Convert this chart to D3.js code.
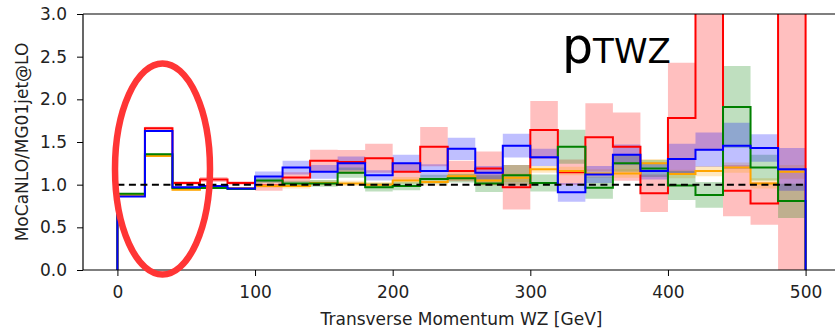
<!DOCTYPE html>
<html>
<head>
<meta charset="utf-8">
<script src="https://cdn.jsdelivr.net/npm/d3@7"></script>
<style>
html,body{margin:0;padding:0;background:#fff;}
svg{display:block;font-family:"DejaVu Sans",sans-serif;}
</style>
</head>
<body>
<svg id="chart" width="835" height="330"></svg>
<script>
// ---- data ----
const binLow = [0,20,40,60,80,100,120,140,160,180,200,220,240,260,280,300,320,340,360,380,400,420,440,460,480];
const binWidth = 20;
const red      = [0.875,1.66,1.02,1.06,1.02,0.99,1.085,1.28,1.265,1.31,1.15,1.445,1.16,1.19,0.97,1.64,1.145,1.555,1.445,0.90,1.78,4.0,0.93,0.78,5.0];
const redErr   = [0.01,0.02,0.02,0.03,0.02,0.06,0.06,0.13,0.14,0.17,0.10,0.23,0.12,0.20,0.26,0.34,0.15,0.40,0.40,0.22,0.65,2.6,0.30,0.25,5.0];
const orange   = [0.88,1.335,0.94,0.96,0.96,0.985,0.985,1.02,1.015,1.0,1.05,1.03,1.10,1.05,1.08,1.18,1.16,1.13,1.13,1.25,1.125,1.16,1.20,1.015,1.15];
const orangeErr= [0.005,0.01,0.01,0.01,0.01,0.02,0.03,0.03,0.03,0.03,0.04,0.04,0.05,0.05,0.05,0.04,0.05,0.05,0.05,0.05,0.05,0.06,0.06,0.06,0.08];
const green    = [0.895,1.355,0.96,0.96,0.95,1.05,1.015,1.015,1.14,0.97,0.985,1.065,1.075,1.015,1.11,1.02,1.445,0.965,1.25,1.19,0.99,0.88,1.91,1.20,0.81];
const greenErr = [0.005,0.01,0.01,0.01,0.01,0.03,0.03,0.04,0.06,0.05,0.05,0.05,0.05,0.10,0.12,0.10,0.20,0.13,0.10,0.10,0.17,0.15,0.48,0.15,0.20];
const blue     = [0.86,1.63,0.97,0.985,0.955,1.095,1.20,1.15,1.25,1.11,1.25,1.16,1.42,1.14,1.457,1.32,0.91,1.12,1.35,1.16,1.30,1.41,1.457,1.43,1.18];
const blueErr  = [0.005,0.01,0.01,0.01,0.01,0.06,0.08,0.08,0.08,0.06,0.10,0.08,0.13,0.08,0.14,0.10,0.11,0.10,0.12,0.10,0.18,0.20,0.27,0.16,0.25];
const xTicks = [0,100,200,300,400,500];
const yTicks = [0,0.5,1.0,1.5,2.0,2.5,3.0];
const xLabel = "Transverse Momentum WZ [GeV]";
const yLabel = "MoCaNLO/MG01jet@LO";
const seriesDefs = [
  {v: red, e: redErr, color: "#ff0000"},
  {v: orange, e: orangeErr, color: "#ffa500"},
  {v: green, e: greenErr, color: "#008000"},
  {v: blue, e: blueErr, color: "#0000ff"}
];

// ---- layout ----
const svg = d3.select("#chart");
const L = 83, R = 840, T = 14, B = 270;
const x = d3.scaleLinear().domain([-25, 525]).range([L, R]);
const y = d3.scaleLinear().domain([0, 3]).range([B, T]);

svg.append("defs").append("clipPath").attr("id","clip")
  .append("rect").attr("x",L).attr("y",T).attr("width",R-L).attr("height",B-T);

const plot = svg.append("g").attr("clip-path","url(#clip)");

function pts(vals){
  const p = binLow.map((b,i)=>({x:b, v:vals[i]}));
  p.push({x:binLow[binLow.length-1]+binWidth, v:vals[vals.length-1]});
  return p;
}
// bands
seriesDefs.forEach(s=>{
  const p = binLow.map((b,i)=>({x:b, lo:s.v[i]-s.e[i], hi:s.v[i]+s.e[i]}));
  const last = p[p.length-1];
  p.push({x:last.x+binWidth, lo:last.lo, hi:last.hi});
  const area = d3.area().curve(d3.curveStepAfter)
    .x(d=>x(d.x)).y0(d=>y(d.lo)).y1(d=>y(d.hi));
  plot.append("path").attr("d", area(p))
    .attr("fill", s.color).attr("fill-opacity", 0.25).attr("stroke","none");
});
// lines
seriesDefs.forEach(s=>{
  const p = [{x:binLow[0], v:0}].concat(pts(s.v));
  p.push({x:binLow[binLow.length-1]+binWidth, v:0});
  const line = d3.line().curve(d3.curveStepAfter).x(d=>x(d.x)).y(d=>y(d.v));
  plot.append("path").attr("d", line(p))
    .attr("fill","none").attr("stroke", s.color).attr("stroke-width",2);
});
// reference dashed line
plot.append("line").attr("x1",x(0)).attr("x2",x(500)).attr("y1",y(1)).attr("y2",y(1))
  .attr("stroke","#000").attr("stroke-width",2).attr("stroke-dasharray","7,4.5");

// axes
const xAxis = d3.axisBottom(x).tickValues(xTicks).tickSize(6).tickPadding(10).tickFormat(d3.format("d"));
const gx = svg.append("g").attr("transform",`translate(0,${B})`).call(xAxis);
const yAxis = d3.axisLeft(y).tickValues(yTicks).tickSize(6).tickPadding(10).tickFormat(d3.format(".1f"));
const gy = svg.append("g").attr("transform",`translate(${L},0)`).call(yAxis);
[gx,gy].forEach(g=>{
  g.select(".domain").remove();
  g.selectAll("text").attr("font-size",17).attr("font-family","DejaVu Sans").attr("fill","#222");
  g.selectAll("line").attr("stroke","#000");
});
// spines
svg.append("line").attr("x1",L).attr("x2",L).attr("y1",T).attr("y2",B).attr("stroke","#000").attr("stroke-width",1.2);
svg.append("line").attr("x1",L).attr("x2",R).attr("y1",B).attr("y2",B).attr("stroke","#000").attr("stroke-width",1.2);
svg.append("line").attr("x1",L).attr("x2",R).attr("y1",T).attr("y2",T).attr("stroke","#000").attr("stroke-width",1.2);
svg.append("line").attr("x1",R).attr("x2",R).attr("y1",T).attr("y2",B).attr("stroke","#000").attr("stroke-width",1.2);

// axis labels
svg.append("text").attr("x",(L+R)/2).attr("y",325).attr("text-anchor","middle")
  .attr("font-size",17).attr("fill","#222").text(xLabel);
svg.append("text").attr("transform",`translate(28,${(T+B)/2}) rotate(-90)`).attr("text-anchor","middle")
  .attr("font-size",17).attr("fill","#222").text(yLabel);

// annotation
const ann = svg.append("text").attr("x",562).attr("y",63).attr("fill","#000");
ann.append("tspan").attr("font-size",49).text("p");
ann.append("tspan").attr("font-size",34).text("TWZ");

// highlight ellipse
svg.append("ellipse").attr("cx",162.5).attr("cy",169).attr("rx",47.5).attr("ry",105.5)
  .attr("fill","none").attr("stroke","#ff3535").attr("stroke-width",6.5);
</script>
</body>
</html>
